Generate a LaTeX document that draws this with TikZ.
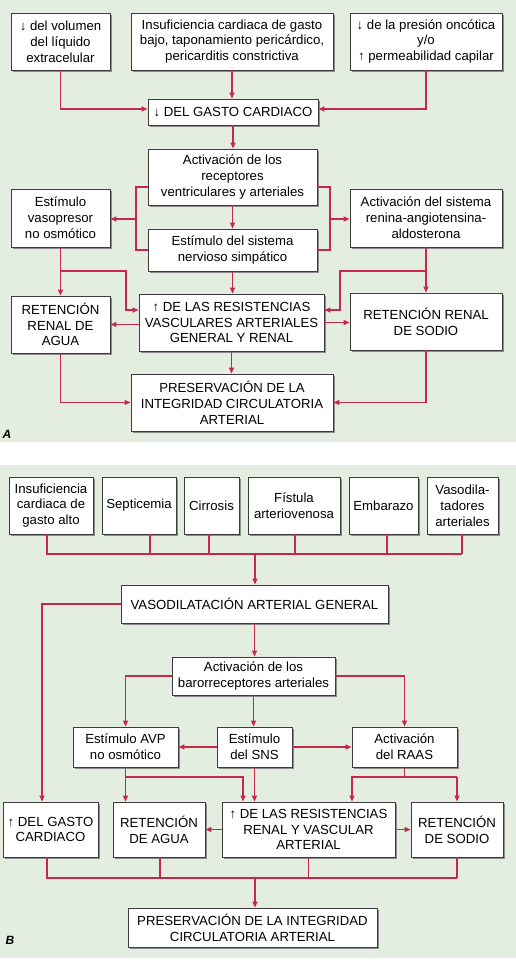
\documentclass[tikz,border=0pt]{standalone}
\usepackage{fontspec}
\setmainfont{Liberation Sans}
\usetikzlibrary{arrows.meta,shadows}
\definecolor{lnred}{RGB}{198,40,74}
\definecolor{bggreen}{RGB}{228,238,224}
\definecolor{bxborder}{RGB}{60,60,60}
\tikzset{
  bx/.style={draw=bxborder, line width=0.9pt, fill=white, inner sep=0pt, align=center,
    font=\fontsize{13.2}{15.8}\selectfont,
    drop shadow={shadow xshift=1.8pt, shadow yshift=-1.8pt, fill=black!45, opacity=1}},
  ln/.style={draw=lnred, line width=1.7pt},
  arr/.style={ln, -{Triangle[length=6pt,width=5pt]}},
  lbl/.style={inner sep=0pt, font=\fontsize{12}{14}\selectfont\bfseries\itshape}
}
\begin{document}
\begin{tikzpicture}[x=1pt,y=-1pt]
\useasboundingbox (0,0) rectangle (516,960);
\fill[white] (0,0) rectangle (516,960);
\fill[bggreen] (0,0) rectangle (516,442);
\fill[bggreen] (0,465) rectangle (516,958);

% ---------------- Panel A ----------------
\node[bx, minimum width=99pt, minimum height=57pt] (b1) at (60.5,41.5) {↓ del volumen\\del líquido\\extracelular};
\node[bx, minimum width=202pt, minimum height=57pt] (b2) at (232,41.5) {Insuficiencia cardiaca de gasto\\bajo, taponamiento pericárdico,\\pericarditis constrictiva};
\node[bx, minimum width=152pt, minimum height=57pt] (b3) at (426,41.5) {↓ de la presión oncótica\\y/o\\↑ permeabilidad capilar};
\node[bx, minimum width=170pt, minimum height=26pt] (gasto) at (233,112) {↓ DEL GASTO CARDIACO};
\node[bx, minimum width=169pt, minimum height=56pt] (actrec) at (232.5,177) {Activación de los\\receptores\\ventriculares y arteriales};
\node[bx, minimum width=99pt, minimum height=58pt] (vaso) at (60.5,218) {Estímulo\\vasopresor\\no osmótico};
\node[bx, minimum width=152pt, minimum height=58pt] (raa) at (426,218) {Activación del sistema\\renina-angiotensina-\\aldosterona};
\node[bx, minimum width=169pt, minimum height=42pt] (sns) at (232.5,250) {Estímulo del sistema\\nervioso simpático};
\node[bx, minimum width=99pt, minimum height=57pt] (agua) at (60.5,324.5) {RETENCIÓN\\RENAL DE\\AGUA};
\node[bx, minimum width=185pt, minimum height=57pt] (resis) at (231.5,322.5) {↑ DE LAS RESISTENCIAS\\VASCULARES ARTERIALES\\GENERAL Y RENAL};
\node[bx, minimum width=152pt, minimum height=57pt] (sodio) at (426,321.5) {RETENCIÓN RENAL\\DE SODIO};
\node[bx, minimum width=202pt, minimum height=57pt] (pres) at (232,402.5) {PRESERVACIÓN DE LA\\INTEGRIDAD CIRCULATORIA\\ARTERIAL};
\node[lbl] (labA) at (7,434.5) {A};

\draw[arr] (b1.south) |- ([yshift=3pt]gasto.west);
\draw[arr] (b2.south) -- (b2.south |- gasto.north);
\draw[arr] (b3.south) |- ([yshift=3pt]gasto.east);
\draw[arr] (gasto.south) -- (gasto.south |- actrec.north);
\draw[arr] (actrec.south) -- (actrec.south |- sns.north);
\coordinate (lb) at (136,219);
\draw[ln] ([yshift=-10pt]actrec.west) -| (lb) |- (sns.west);
\draw[arr] (lb) -- (lb -| vaso.east);
\coordinate (rb) at (330,219);
\draw[ln] ([yshift=-10pt]actrec.east) -| (rb) |- (sns.east);
\draw[arr] (rb) -- (rb -| raa.west);
\draw[arr] (vaso.south) -- (vaso.south |- agua.north);
\coordinate (va) at (60.5,271);
\coordinate (vb) at (126,310);
\draw[arr] (va) -| (vb) -- (vb -| resis.west);
\draw[arr] (sns.south) -- (sns.south |- resis.north);
\draw[arr] (raa.south) -- (raa.south |- sodio.north);
\coordinate (ra) at (426,271);
\coordinate (rbb) at (340,310);
\draw[arr] (ra) -| (rbb) -- (rbb -| resis.east);
\draw[arr] ([yshift=-2pt]resis.west) -- ([yshift=-2pt]resis.west -| agua.east);
\draw[arr] (resis.east) -- (resis.east -| sodio.west);
\draw[arr] (resis.south) -- (resis.south |- pres.north);
\draw[arr] (agua.south) |- (pres.west);
\draw[arr] (sodio.south) |- (pres.east);

% ---------------- Panel B ----------------
\node[bx, minimum width=84pt, minimum height=57pt] (t1) at (51,505.5) {Insuficiencia\\cardiaca de\\gasto alto};
\node[bx, minimum width=74pt, minimum height=57pt] (t2) at (139,505.5) {Septicemia};
\node[bx, minimum width=55pt, minimum height=57pt] (t3) at (211.5,505.5) {Cirrosis};
\node[bx, minimum width=92pt, minimum height=57pt] (t4) at (294,505.5) {Fístula\\arteriovenosa};
\node[bx, minimum width=69pt, minimum height=57pt] (t5) at (383.5,505.5) {Embarazo};
\node[bx, minimum width=71pt, minimum height=57pt] (t6) at (462.5,505.5) {Vasodila-\\tadores\\arteriales};
\node[bx, minimum width=267pt, minimum height=38pt] (vasodil) at (254.5,604) {VASODILATACIÓN ARTERIAL GENERAL};
\node[bx, minimum width=163pt, minimum height=38pt] (baro) at (253.5,676) {Activación de los\\barorreceptores arteriales};
\node[bx, minimum width=105pt, minimum height=40pt] (avp) at (125.5,747) {Estímulo AVP\\no osmótico};
\node[bx, minimum width=75pt, minimum height=40pt] (snsb) at (254.5,747) {Estímulo\\del SNS};
\node[bx, minimum width=105pt, minimum height=40pt] (raas) at (404.5,747) {Activación\\del RAAS};
\node[bx, minimum width=95pt, minimum height=55pt] (gc) at (50.5,829.5) {↑ DEL GASTO\\CARDIACO};
\node[bx, minimum width=92pt, minimum height=55pt] (agua2) at (159,829.5) {RETENCIÓN\\DE AGUA};
\node[bx, minimum width=173pt, minimum height=55pt] (resis2) at (308.5,829.5) {↑ DE LAS RESISTENCIAS\\RENAL Y VASCULAR\\ARTERIAL};
\node[bx, minimum width=92pt, minimum height=55pt] (sodio2) at (457,829.5) {RETENCIÓN\\DE SODIO};
\node[bx, minimum width=249pt, minimum height=39pt] (pres2) at (252.5,927.5) {PRESERVACIÓN DE LA INTEGRIDAD\\CIRCULATORIA ARTERIAL};
\node[lbl] (labB) at (10,940) {B};

\coordinate (busL) at (47,554);
\coordinate (busR) at (462,554);
\coordinate (busM) at (255,554);
\draw[ln] ([xshift=-4pt]t1.south) |- (busR);
\draw[ln] ([xshift=11pt]t2.south) -- ([xshift=11pt]t2.south |- busL);
\draw[ln] ([xshift=-2.5pt]t3.south) -- ([xshift=-2.5pt]t3.south |- busL);
\draw[ln] ([xshift=1pt]t4.south) -- ([xshift=1pt]t4.south |- busL);
\draw[ln] ([xshift=3.5pt]t5.south) -- ([xshift=3.5pt]t5.south |- busL);
\draw[ln] (busR |- t6.south) -- (busR);
\draw[arr] (busM) -- (busM |- vasodil.north);
\coordinate (gl) at (42,604);
\draw[arr] (vasodil.west) -| (gl |- gc.north);
\draw[arr] (vasodil.south) -- (vasodil.south |- baro.north);
\draw[arr] (baro.west) -| (avp.north);
\draw[arr] (baro.east) -| (raas.north);
\draw[arr] (baro.south) -- (baro.south |- snsb.north);
\draw[arr] (snsb.west) -- (avp.east);
\draw[arr] (snsb.east) -- (raas.west);
\draw[arr] (avp.south) -- (avp.south |- agua2.north);
\coordinate (aj) at (125.5,777);
\coordinate (ak) at (243,777);
\draw[arr] (aj) -| (ak |- resis2.north);
\draw[arr] (snsb.south) -- (snsb.south |- resis2.north);
\coordinate (rj) at (352,777);
\coordinate (rk) at (457,777);
\draw[ln] (raas.south) -- (raas.south |- rj);
\draw[arr] (rk) -| (rj |- resis2.north);
\draw[arr] (rk) -- (rk |- sodio2.north);
\draw[arr] (resis2.west) -- (resis2.west -| agua2.east);
\draw[arr] (resis2.east) -- (resis2.east -| sodio2.west);
\coordinate (bbL) at (47,878);
\coordinate (bbR) at (457,878);
\coordinate (bbM) at (255,878);
\draw[ln] ([xshift=-3.5pt]gc.south) |- (bbR);
\draw[ln] ([xshift=1pt]agua2.south) -- ([xshift=1pt]agua2.south |- bbL);
\draw[ln] (resis2.south) -- (resis2.south |- bbL);
\draw[ln] (sodio2.south) -- (sodio2.south |- bbR);
\draw[arr] (bbM) -- (bbM |- pres2.north);
\end{tikzpicture}
\end{document}
